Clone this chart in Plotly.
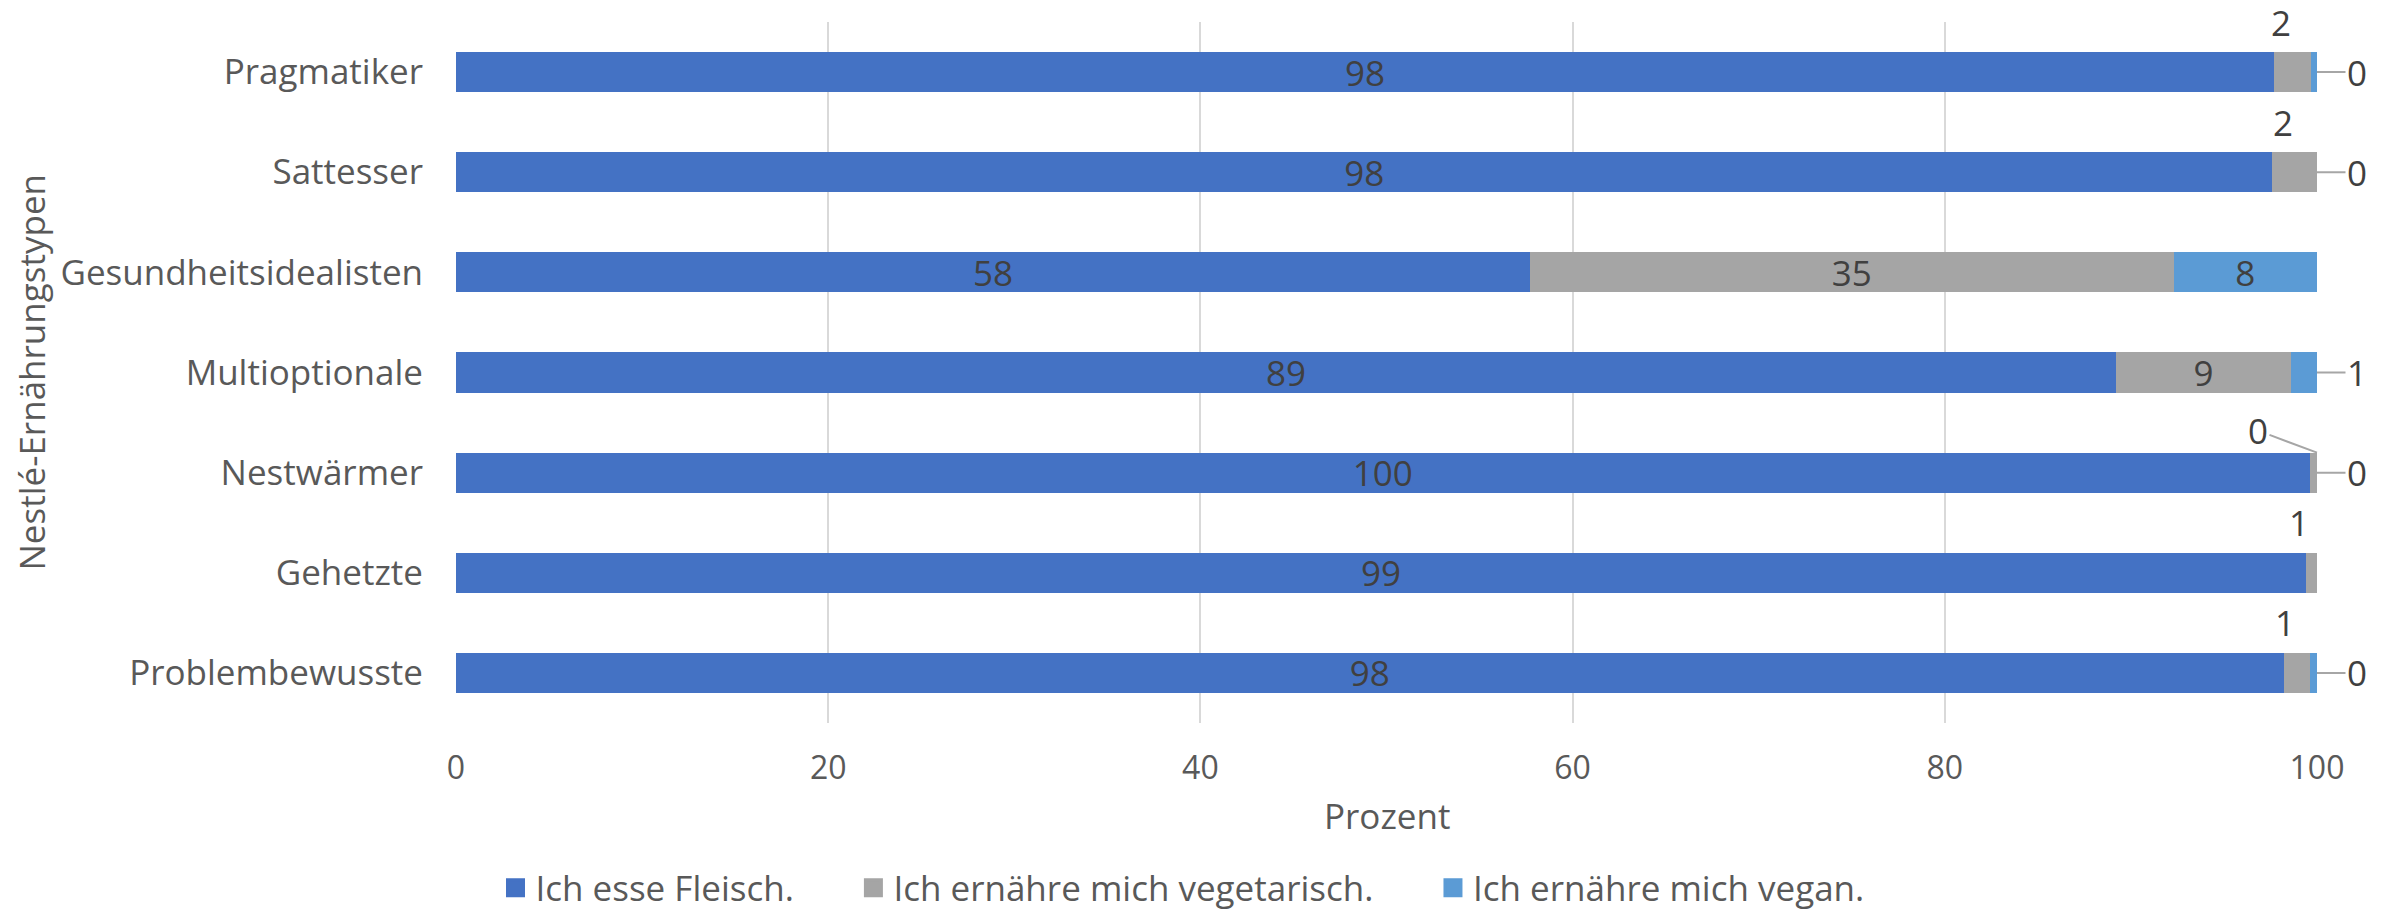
import plotly.graph_objects as go

categories = ["Pragmatiker", "Sattesser", "Gesundheitsidealisten", "Multioptionale",
              "Nestwärmer", "Gehetzte", "Problembewusste"]
fleisch = [97.7, 97.6, 57.7, 89.2, 99.6, 99.4, 98.2]
vegetarisch = [2.0, 2.4, 34.6, 9.4, 0.4, 0.6, 1.4]
vegan = [0.3, 0.0, 7.7, 1.4, 0.0, None, 0.4]

series_names = ["Ich esse Fleisch.", "Ich ernähre mich vegetarisch.", "Ich ernähre mich vegan."]
colors = ["#4472C4", "#A5A5A5", "#5B9BD5"]
x_title = "Prozent"
y_title = "Nestlé-Ernährungstypen"

FONT = "Open Sans"
TXT = "#595959"
LBL = "#404040"
LEAD = "#A6A6A6"
FS_LBL = 35
FS_CAT = 35
FS_TICK = 32
FS_TITLE = 35
FS_LEG = 35

W, H = 2390, 915
ML, MR, MT, MB = 456, 73, 22, 192

fig = go.Figure()
for name, vals, col in zip(series_names, [fleisch, vegetarisch, vegan], colors):
    texts = [("" if (v is None or v < 5) else f"{v:.0f}") for v in vals]
    fig.add_trace(go.Bar(
        y=categories, x=[0 if v is None else v for v in vals], orientation="h",
        name=name, legendgroup=name, showlegend=False,
        marker=dict(color=col, line=dict(width=0)),
        text=texts, textposition="inside", insidetextanchor="middle", textangle=0,
        textfont=dict(family=FONT, size=FS_LBL, color=LBL),
        hoverinfo="skip",
    ))
# legend entries with larger square keys (as in the reference)
for name, col in zip(series_names, colors):
    fig.add_trace(go.Scatter(
        x=[None], y=[None], mode="markers", name=name + "\u00a0" * 6, legendgroup=name,
        marker=dict(symbol="square", size=16, color=col, line=dict(color=col, width=3)),
        hoverinfo="skip", showlegend=True,
    ))

lbl_font = dict(family=FONT, size=FS_LBL, color=LBL)
annotations = []
for i, cat in enumerate(categories):
    f = fleisch[i]
    v = vegetarisch[i]
    w = vegan[i]
    if v is not None and v < 5:
        end = min(f + v, 100.0)
        if v < 0.5 and f >= 99.5:
            annotations.append(dict(
                x=end, y=cat, yshift=20, text=f"{v:.0f}", showarrow=True,
                arrowhead=0, arrowwidth=2, arrowcolor=LEAD, ax=-59, ay=-22, standoff=0,
                font=lbl_font, xref="x", yref="y"))
        else:
            annotations.append(dict(
                x=f + v / 2, y=cat, yshift=50, xshift=-12, text=f"{v:.0f}", showarrow=False,
                font=lbl_font, xref="x", yref="y"))
    if w is not None and w < 5:
        end = min(f + v + w, 100.0)
        annotations.append(dict(
            x=end, y=cat, text=f"{w:.0f}", showarrow=True,
            arrowhead=0, arrowwidth=2, arrowcolor=LEAD, ax=40, ay=0, standoff=0,
            font=lbl_font, xref="x", yref="y"))

plot_w = W - ML - MR
plot_h = H - MT - MB
annotations.append(dict(
    text=y_title, textangle=-90, xref="paper", yref="paper",
    x=(31 - ML) / plot_w, y=0.5, xanchor="center", yanchor="middle", showarrow=False,
    font=dict(family=FONT, size=FS_TITLE, color=TXT)))
annotations.append(dict(
    text=x_title, xref="paper", yref="paper",
    x=0.5, y=-(815 - (H - MB)) / plot_h, xanchor="center", yanchor="middle", showarrow=False,
    font=dict(family=FONT, size=FS_TITLE, color=TXT)))

fig.update_layout(
    width=W, height=H,
    barmode="stack", bargap=0.6,
    plot_bgcolor="white", paper_bgcolor="white",
    font=dict(family=FONT, size=FS_TICK, color=TXT),
    margin=dict(l=ML, r=MR, t=MT, b=MB, autoexpand=False),
    uniformtext=dict(minsize=FS_LBL, mode="show"),
    showlegend=True,
    legend=dict(orientation="h", xref="container", yref="container",
                x=0.5 + 15 / W, xanchor="center", y=1 - 888 / H, yanchor="middle",
                itemsizing="trace",
                font=dict(family=FONT, size=FS_LEG, color=TXT), traceorder="normal"),
    annotations=annotations,
)
fig.update_xaxes(range=[0, 100], dtick=20, showgrid=True, gridcolor="#D9D9D9", gridwidth=2,
                 zeroline=False, showline=False, ticks="", ticklabelstandoff=23,
                 tickfont=dict(family=FONT, size=FS_TICK, color=TXT))
fig.update_yaxes(categoryorder="array", categoryarray=categories,
                 range=[len(categories) - 0.5, -0.5], autorange=False,
                 showgrid=False, showline=False, ticks="", ticklabelstandoff=32,
                 tickfont=dict(family=FONT, size=FS_CAT, color=TXT))

fig.write_html("out.html", config={"displayModeBar": False},
               post_script="document.body.style.margin='0';")
